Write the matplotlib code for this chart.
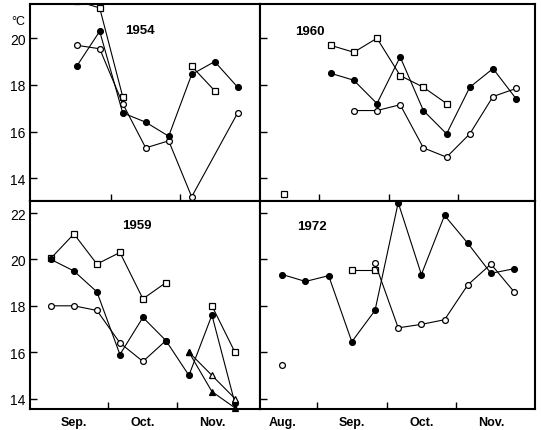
import numpy as np
import matplotlib
matplotlib.use("Agg")
import matplotlib.pyplot as plt

plt.rcParams['font.family'] = ['Liberation Sans', 'DejaVu Sans']

nan = np.nan

# x = dekad index (10-day periods); left column starts 1 Sep, right column starts 1 Aug
# 1954
d54_filled = [1, 2, 3, 4, 5, 6, 7, 8]
t54_filled = [18.8, 20.3, 16.8, 16.4, 15.8, 18.45, 19.0, 17.9]
d54_open = [1, 2, 3, 4, 5, 6, 8]
t54_open = [19.7, 19.55, 17.2, 15.3, 15.6, 13.2, 16.8]
d54_square = [1, 2, 3, 4, 5, 6, 7]
t54_square = [21.6, 21.3, 17.5, nan, nan, 18.8, 17.75]

# 1960
d60_filled = [3, 4, 5, 6, 7, 8, 9, 10, 11]
t60_filled = [18.5, 18.2, 17.2, 19.2, 16.9, 15.9, 17.9, 18.7, 17.4]
d60_open = [4, 5, 6, 7, 8, 9, 10, 11]
t60_open = [16.9, 16.9, 17.15, 15.3, 14.9, 15.9, 17.5, 17.85]
d60_square = [3, 4, 5, 6, 7, 8]
t60_square = [19.7, 19.4, 20.0, 18.4, 17.9, 17.2]
d60_square_single = [1]
t60_square_single = [13.3]

# 1959
d59_filled = [0, 1, 2, 3, 4, 5, 6, 7, 8]
t59_filled = [20.0, 19.5, 18.6, 15.9, 17.5, 16.5, 15.0, 17.6, 13.8]
d59_open = [0, 1, 2, 3, 4, 5]
t59_open = [18.0, 18.0, 17.8, 16.4, 15.6, 16.5]
d59_square = [0, 1, 2, 3, 4, 5, 6, 7, 8]
t59_square = [20.05, 21.1, 19.8, 20.3, 18.3, 19.0, nan, 18.0, 16.0]
d59_tri_open = [6, 7, 8]
t59_tri_open = [16.0, 15.0, 14.0]
d59_tri_filled = [6, 7, 8]
t59_tri_filled = [16.0, 14.3, 13.6]

# 1972
d72_filled = [1, 2, 3, 4, 5, 6, 7, 8, 9, 10, 11]
t72_filled = [19.35, 19.05, 19.3, 16.45, 17.8, 22.45, 19.35, 21.9, 20.7, 19.4, 19.6]
d72_open = [5, 6, 7, 8, 9, 10, 11]
t72_open = [19.85, 17.05, 17.2, 17.4, 18.9, 19.8, 18.6]
d72_open_single = [1]
t72_open_single = [15.45]
d72_square = [4, 5]
t72_square = [19.55, 19.55]

months_left = ['Sep.', 'Oct.', 'Nov.']
months_right = ['Aug.', 'Sep.', 'Oct.', 'Nov.']

W, H = 541, 431
fig = plt.figure(figsize=(W / 100, H / 100), dpi=100)


def box(x0, y0, x1, y1):
    return [x0 / W, 1 - y1 / H, (x1 - x0) / W, (y1 - y0) / H]


ax54 = fig.add_axes(box(30, 5, 260, 202))
ax60 = fig.add_axes(box(260, 5, 535, 202))
ax59 = fig.add_axes(box(30, 202, 260, 410))
ax72 = fig.add_axes(box(260, 202, 535, 410))

lw = 0.8
ms = 4.2


def series(ax, x, y, kind, line=True, clip=False):
    styles = {
        'filled': dict(marker='o', mfc='black', mec='black'),
        'open': dict(marker='o', mfc='white', mec='black'),
        'square': dict(marker='s', mfc='white', mec='black'),
        'tri_open': dict(marker='^', mfc='white', mec='black'),
        'tri_filled': dict(marker='^', mfc='black', mec='black'),
    }
    ax.plot(x, y, color='black', lw=lw if line else 0, ms=ms, mew=0.9,
            zorder=3, clip_on=clip, **styles[kind])


series(ax54, d54_square, t54_square, 'square', clip=True)
series(ax54, d54_open, t54_open, 'open')
series(ax54, d54_filled, t54_filled, 'filled')

series(ax60, d60_square, t60_square, 'square')
series(ax60, d60_square_single, t60_square_single, 'square', line=False)
series(ax60, d60_open, t60_open, 'open')
series(ax60, d60_filled, t60_filled, 'filled')

series(ax59, d59_square, t59_square, 'square')
series(ax59, d59_open, t59_open, 'open')
series(ax59, d59_filled, t59_filled, 'filled')
series(ax59, d59_tri_open, t59_tri_open, 'tri_open')
series(ax59, d59_tri_filled, t59_tri_filled, 'tri_filled')

series(ax72, d72_square, t72_square, 'square')
series(ax72, d72_open, t72_open, 'open')
series(ax72, d72_open_single, t72_open_single, 'open', line=False)
series(ax72, d72_filled, t72_filled, 'filled')

ax54.set_ylim(13.02, 21.47)
ax60.set_ylim(13.02, 21.47)
ax59.set_ylim(13.55, 22.52)
ax72.set_ylim(13.55, 22.52)
ax54.set_xlim(-1.03, 8.97)
ax59.set_xlim(-0.91, 9.09)
ax60.set_xlim(-0.04, 11.81)
ax72.set_xlim(0.04, 11.9)

for ax in (ax54, ax59):
    ax.set_xticks([2.5, 5.5])
for ax in (ax60, ax72):
    ax.set_xticks([2.5, 5.5, 8.5])
for ax in (ax54, ax60):
    ax.set_yticks([14, 16, 18, 20])
for ax in (ax59, ax72):
    ax.set_yticks([14, 16, 18, 20, 22])

ax59.set_xticks([1, 4, 7], minor=True)
ax59.set_xticklabels(months_left, minor=True)
ax72.set_xticks([1, 4, 7, 10], minor=True)
ax72.set_xticklabels(months_right, minor=True)

for ax in (ax54, ax60, ax59, ax72):
    ax.tick_params(axis='both', which='major', direction='in', length=5,
                   width=1.0, labelsize=10, pad=3)
    ax.tick_params(axis='x', which='major', labelbottom=False)
    ax.tick_params(axis='x', which='minor', length=0, pad=5)
    for lab in ax.get_xticklabels(minor=True):
        lab.set_fontweight('bold')
        lab.set_fontsize(9)
    for sp in ax.spines.values():
        sp.set_linewidth(1.5)
for ax in (ax60, ax72):
    ax.tick_params(axis='y', labelleft=False)

for ax, yr, xy in ((ax54, '1954', (0.478, 0.868)), (ax60, '1960', (0.18, 0.863)),
                   (ax59, '1959', (0.465, 0.885)), (ax72, '1972', (0.19, 0.88))):
    ax.text(xy[0], xy[1], yr, transform=ax.transAxes, fontsize=9.5,
            fontweight='bold', ha='center', va='center')

fig.text(18 / W, 1 - 22 / H, '°C', fontsize=9, ha='center', va='center')

fig.savefig('out.png', dpi=100)
